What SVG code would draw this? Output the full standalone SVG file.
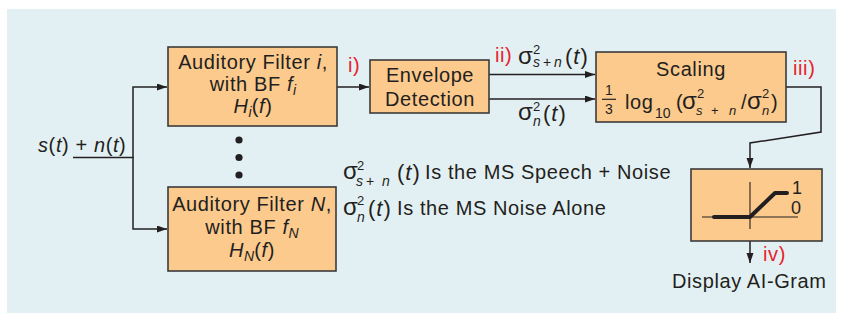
<svg xmlns="http://www.w3.org/2000/svg" width="843" height="321" viewBox="0 0 843 321">
<defs>
<marker id="ah" markerUnits="userSpaceOnUse" markerWidth="11" markerHeight="8" refX="10" refY="3.5" orient="auto">
<path d="M0,0 L10,3.5 L0,7 z" fill="#231f20"/>
</marker>
<style>
text{font-family:"Liberation Sans",Arial,Helvetica,sans-serif;font-size:20px;fill:#231f20;letter-spacing:0.6px}
.box{fill:#fcca8d;stroke:#3a3a3a;stroke-width:1.6}
.red{fill:#e8212b}
.it{font-style:italic}
.sg{font-size:24px;letter-spacing:0}
.sm{font-size:13px;letter-spacing:0}
.sub{font-size:14px;font-style:italic;letter-spacing:0}
.par{font-size:22px;letter-spacing:1px}
.ln{fill:none;stroke:#231f20;stroke-width:1.5}
.mid{text-anchor:middle}
</style>
</defs>
<rect x="7" y="9" width="829" height="304" fill="#e3f0f3"/>

<g id="connectors">
<path class="ln" d="M73,157.5 H133 V87 H167" marker-end="url(#ah)"/>
<path class="ln" d="M133,157 V229 H167" marker-end="url(#ah)"/>
<path class="ln" d="M337,87 H369" marker-end="url(#ah)"/>
<path class="ln" d="M489,74.5 H595" marker-end="url(#ah)"/>
<path class="ln" d="M489,99 H595" marker-end="url(#ah)"/>
<path class="ln" d="M786,87 H821 V132 L750,143 V168" marker-end="url(#ah)"/>
<path class="ln" d="M750,241 V263" marker-end="url(#ah)"/>
</g>

<g id="input">
<text x="38" y="152"><tspan class="it">s</tspan>(<tspan class="it">t</tspan>) + <tspan class="it">n</tspan>(<tspan class="it">t</tspan>)</text>
</g>

<g id="filter-i">
<rect class="box" x="168" y="47" width="169" height="79"/>
<text class="mid" x="253" y="69">Auditory Filter <tspan class="it">i</tspan>,</text>
<text class="mid" x="253" y="91">with BF <tspan class="it">f</tspan><tspan class="sub" dy="4">i</tspan></text>
<text class="mid" x="253" y="113"><tspan class="it">H</tspan><tspan class="sub" dy="4">i</tspan><tspan dy="-4">(</tspan><tspan class="it">f</tspan>)</text>
</g>

<g id="dots">
<circle cx="239" cy="140" r="3.6" fill="#231f20"/>
<circle cx="239" cy="157.5" r="3.6" fill="#231f20"/>
<circle cx="239" cy="175" r="3.6" fill="#231f20"/>
</g>

<g id="filter-N">
<rect class="box" x="168" y="187" width="168" height="84"/>
<text class="mid" x="252" y="211">Auditory Filter <tspan class="it">N</tspan>,</text>
<text class="mid" x="252" y="234">with BF <tspan class="it">f</tspan><tspan class="sub" dy="4">N</tspan></text>
<text class="mid" x="252" y="257"><tspan class="it">H</tspan><tspan class="sub" dy="4">N</tspan><tspan dy="-4">(</tspan><tspan class="it">f</tspan>)</text>
</g>

<g id="label-i">
<text class="red" x="348" y="72">i)</text>
</g>

<g id="envelope">
<rect class="box" x="370" y="60" width="119" height="53"/>
<text class="mid" x="430" y="82">Envelope</text>
<text class="mid" x="430" y="106">Detection</text>
</g>

<g id="label-ii">
<text class="red" x="495" y="62">ii)</text>
<text class="sg" x="518" y="63.5">σ</text>
<text class="sm" x="533" y="54">2</text>
<text class="sub" y="67"><tspan x="533">s</tspan><tspan x="543" font-style="normal">+</tspan><tspan x="554">n</tspan></text>
<text class="par" x="565" y="64">(<tspan class="it">t</tspan>)</text>
<text class="sg" x="518" y="120">σ</text>
<text class="sm" x="533" y="110.5">2</text>
<text class="sub" x="533" y="125.5">n</text>
<text class="par" x="543" y="120.5">(<tspan class="it">t</tspan>)</text>
</g>

<g id="scaling">
<rect class="box" x="596" y="52" width="190" height="70"/>
<text class="mid" x="691" y="76">Scaling</text>
<text class="mid" x="609" y="95" style="font-size:14px;letter-spacing:0">1</text>
<line x1="602" y1="99.3" x2="616" y2="99.3" stroke="#231f20" stroke-width="1.2"/>
<text class="mid" x="609" y="113.5" style="font-size:14px;letter-spacing:0">3</text>
<text x="625" y="108.5">log</text>
<text x="655" y="118" style="font-size:14px;letter-spacing:0">10</text>
<text x="676" y="108.5">(</text>
<text class="sg" x="682" y="108.5">σ</text>
<text class="sm" x="697" y="98">2</text>
<text class="sub" y="114.5" style="font-size:13px"><tspan x="696">s</tspan><tspan x="711" font-style="normal">+</tspan><tspan x="729">n</tspan></text>
<text x="741" y="108.5">/</text>
<text class="sg" x="747" y="108.5">σ</text>
<text class="sm" x="762" y="98">2</text>
<text class="sub" x="762" y="114.5" style="font-size:13px">n</text>
<text x="771" y="108.5">)</text>
</g>

<g id="label-iii">
<text class="red" x="793" y="75">iii)</text>
</g>

<g id="legend">
<text class="sg" x="343" y="179">σ</text>
<text class="sm" x="357" y="169.5">2</text>
<text class="sub" y="186"><tspan x="356">s</tspan><tspan x="366" font-style="normal">+</tspan><tspan x="382">n</tspan></text>
<text class="par" x="397" y="179.5">(<tspan class="it">t</tspan>)</text>
<text x="425" y="179">Is the MS Speech + Noise</text>
<text class="sg" x="343" y="215">σ</text>
<text class="sm" x="357" y="205">2</text>
<text class="sub" x="357" y="222">n</text>
<text class="par" x="368" y="215.5">(<tspan class="it">t</tspan>)</text>
<text x="397" y="215">Is the MS Noise Alone</text>
</g>

<g id="ai-gram">
<rect class="box" x="691" y="169" width="131" height="72"/>
<line x1="702" y1="217" x2="798" y2="217" stroke="#231f20" stroke-width="1.1"/>
<line x1="750" y1="182" x2="750" y2="229" stroke="#231f20" stroke-width="1.1"/>
<polyline points="714,217 750,217 775,193 787,193" fill="none" stroke="#231f20" stroke-width="4" stroke-linejoin="round" stroke-linecap="round"/>
<text x="792" y="193.5" style="font-size:18px;letter-spacing:0">1</text>
<text x="791" y="213.5" style="font-size:18px;letter-spacing:0">0</text>
</g>

<g id="label-iv">
<text class="red" x="763" y="261">iv)</text>
</g>

<g id="display">
<text x="672" y="288">Display AI-Gram</text>
</g>
</svg>
